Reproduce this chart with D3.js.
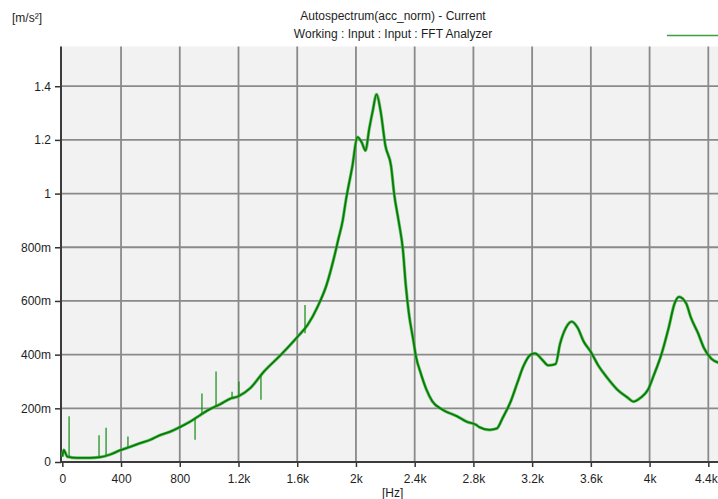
<!DOCTYPE html>
<html lang="en">
<head>
  <meta charset="UTF-8">
  <title>Autospectrum(acc_norm) - Current</title>
  <script src="https://d3js.org/d3.v7.min.js"></script>
<style>
  body, html {
    margin: 0;
    padding: 0;
    background: #ffffff;
    font-family: 'Liberation Sans', Arial, sans-serif;
    overflow: hidden;
  }
  svg { display: block; }
  .lbl { font-size: 12px; fill: #1e1e1e; }
</style>
</head>
<body>
  <svg width="718" height="499"></svg>

  <script>
    // spectrum (Hz, m/s²)
    const freqHz = [0, 10, 20, 34, 100, 190, 258, 326, 400, 455, 530, 600, 665, 735, 800, 870, 940, 1005,
                    1075, 1140, 1200, 1280, 1370, 1490, 1600, 1670, 1740, 1800, 1850, 1880, 1910, 1930, 1975,
                    2010, 2040, 2065, 2090, 2115, 2140, 2170, 2200, 2240, 2260, 2290, 2320, 2340, 2360, 2390,
                    2410, 2440, 2480, 2520, 2590, 2690, 2755, 2820, 2840, 2910, 2960, 3000, 3050, 3100, 3140,
                    3190, 3220, 3270, 3310, 3360, 3390, 3430, 3470, 3510, 3550, 3600, 3650, 3710, 3780, 3850,
                    3890, 3940, 3990, 4030, 4080, 4130, 4170, 4200, 4250, 4280, 4330, 4370, 4420, 4470];
    const accValues = [0.02, 0.045, 0.035, 0.02, 0.015, 0.015, 0.018, 0.028, 0.045, 0.055, 0.07, 0.083, 0.10, 0.113,
                       0.13, 0.15, 0.175, 0.197, 0.215, 0.235, 0.245, 0.275, 0.335, 0.40, 0.465, 0.51, 0.58, 0.66,
                       0.76, 0.83, 0.90, 0.97, 1.10, 1.21, 1.19, 1.16, 1.24, 1.31, 1.37, 1.30, 1.18, 1.10, 1.00,
                       0.90, 0.79, 0.655, 0.556, 0.456, 0.39, 0.333, 0.27, 0.226, 0.195, 0.17, 0.15, 0.138, 0.13,
                       0.12, 0.125, 0.165, 0.22, 0.296, 0.356, 0.40, 0.405, 0.38, 0.36, 0.365, 0.44, 0.50, 0.523,
                       0.50, 0.45, 0.41, 0.36, 0.315, 0.27, 0.24, 0.225, 0.24, 0.27, 0.325, 0.40, 0.50, 0.59,
                       0.615, 0.59, 0.54, 0.48, 0.425, 0.385, 0.37];

    // narrow spikes in the low band: frequency, base value, tip value
    const spikeHz   = [46, 250, 298, 447, 904, 951, 1047, 1156, 1203, 1353, 1653];
    const spikeBase = [0.015, 0.02, 0.022, 0.055, 0.165, 0.18, 0.21, 0.235, 0.245, 0.32, 0.48];
    const spikeTip  = [0.17, 0.10, 0.128, 0.095, 0.083, 0.255, 0.337, 0.262, 0.30, 0.232, 0.585];

    const xTicks = [0, 400, 800, 1200, 1600, 2000, 2400, 2800, 3200, 3600, 4000, 4400];
    const xTickLabels = ["0", "400", "800", "1.2k", "1.6k", "2k", "2.4k", "2.8k", "3.2k", "3.6k", "4k", "4.4k"];
    const yTicks = [0, 0.2, 0.4, 0.6, 0.8, 1.0, 1.2, 1.4];
    const yTickLabels = ["0", "200m", "400m", "600m", "800m", "1", "1.2", "1.4"];

    const titleLines = ["Autospectrum(acc_norm) - Current", "Working : Input : Input : FFT Analyzer"];

    const plot = {left: 61, right: 718, top: 46.5, bottom: 462};

    const svg = d3.select("svg");

    const x = d3.scaleLinear().domain([-9, 4466]).range([plot.left, plot.right]);
    const y = d3.scaleLinear().domain([0, 1.548]).range([plot.bottom, plot.top]);

    // plot background
    svg.append("rect")
       .attr("x", plot.left)
       .attr("y", plot.top)
       .attr("width", plot.right - plot.left)
       .attr("height", plot.bottom - plot.top)
       .attr("fill", "#f2f2f2");

    // grid
    svg.append("g")
       .selectAll("line")
       .data(xTicks.slice(1))
       .enter().append("line")
         .attr("x1", d => x(d)).attr("x2", d => x(d))
         .attr("y1", plot.top).attr("y2", plot.bottom)
         .attr("stroke", "#8a8a8a").attr("stroke-width", 1.8);

    svg.append("g")
       .selectAll("line")
       .data(yTicks.slice(1))
       .enter().append("line")
         .attr("x1", plot.left).attr("x2", plot.right)
         .attr("y1", d => y(d)).attr("y2", d => y(d))
         .attr("stroke", "#8a8a8a").attr("stroke-width", 1.8);

    // axes
    const xAxis = d3.axisBottom(x)
                    .tickValues(xTicks)
                    .tickSize(5)
                    .tickFormat((d, i) => xTickLabels[i]);
    const yAxis = d3.axisLeft(y)
                    .tickValues(yTicks)
                    .tickSize(6)
                    .tickFormat((d, i) => yTickLabels[i]);

    const gx = svg.append("g")
                  .attr("transform", `translate(0,${plot.bottom})`)
                  .call(xAxis);
    gx.select(".domain").remove();
    gx.selectAll(".tick line").attr("stroke", "#333").attr("stroke-width", 1.5);
    gx.selectAll(".tick text")
      .attr("y", 12)
      .attr("dx", (d, i) => i === xTicks.length - 1 ? -2.5 : 0)
      .style("font-family", "'Liberation Sans', Arial, sans-serif")
      .style("font-size", "12px")
      .attr("fill", "#1e1e1e");

    const gy = svg.append("g")
                  .attr("transform", `translate(${plot.left},0)`)
                  .call(yAxis);
    gy.select(".domain").remove();
    gy.selectAll(".tick line").attr("stroke", "#333").attr("stroke-width", 1.5);
    gy.selectAll(".tick text")
      .attr("x", -10)
      .style("font-family", "'Liberation Sans', Arial, sans-serif")
      .style("font-size", "12px")
      .attr("fill", "#1e1e1e");

    svg.append("line")
       .attr("x1", plot.left).attr("x2", plot.left)
       .attr("y1", plot.top).attr("y2", plot.bottom + 1)
       .attr("stroke", "#3c3c3c").attr("stroke-width", 2);
    svg.append("line")
       .attr("x1", plot.left).attr("x2", plot.right)
       .attr("y1", plot.bottom).attr("y2", plot.bottom)
       .attr("stroke", "#3c3c3c").attr("stroke-width", 2);

    // spectrum
    const pts = freqHz.map((f, i) => [f, accValues[i]]);
    const line = d3.line()
                   .x(d => x(d[0]))
                   .y(d => y(d[1]))
                   .curve(d3.curveMonotoneX);

    const clip = svg.append("defs").append("clipPath").attr("id", "plotClip");
    clip.append("rect")
        .attr("x", plot.left).attr("y", plot.top)
        .attr("width", plot.right - plot.left).attr("height", plot.bottom - plot.top);

    const curveG = svg.append("g").attr("clip-path", "url(#plotClip)");

    curveG.append("path")
          .datum(pts)
          .attr("d", line)
          .attr("fill", "none")
          .attr("stroke", "#5cb05c")
          .attr("stroke-opacity", 0.8)
          .attr("stroke-width", 3.2)
          .attr("stroke-linejoin", "round");

    curveG.append("path")
          .datum(pts)
          .attr("d", line)
          .attr("fill", "none")
          .attr("stroke", "#008000")
          .attr("stroke-width", 1.8)
          .attr("stroke-linejoin", "round");

    curveG.selectAll("line.spike")
          .data(spikeHz)
          .enter().append("line")
            .attr("class", "spike")
            .attr("x1", d => x(d)).attr("x2", d => x(d))
            .attr("y1", (d, i) => y(spikeBase[i]))
            .attr("y2", (d, i) => y(spikeTip[i]))
            .attr("stroke", "#108a10")
            .attr("stroke-width", 1.2);

    // titles and units
    svg.selectAll("text.title")
       .data(titleLines)
       .enter().append("text")
         .attr("class", "lbl title")
         .attr("x", 393)
         .attr("y", (d, i) => 20 + i * 18)
         .attr("text-anchor", "middle")
         .text(d => d);

    svg.append("text").attr("class", "lbl").attr("x", 12).attr("y", 22).text("[m/s²]");
    svg.append("text").attr("class", "lbl").attr("x", 382).attr("y", 497).text("[Hz]");

    // legend swatch
    svg.append("line")
       .attr("x1", 667).attr("x2", 718)
       .attr("y1", 35.5).attr("y2", 35.5)
       .attr("stroke", "#3f9f3f").attr("stroke-width", 1.6);
  </script>
</body>
</html>
